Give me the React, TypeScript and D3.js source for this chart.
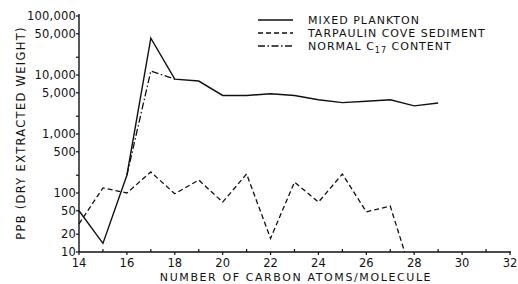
import React from "react";
import * as d3 from "d3";

const carbonAtoms = [14, 15, 16, 17, 18, 19, 20, 21, 22, 23, 24, 25, 26, 27, 28, 29];
const mixedPlankton = [50, 14, 200, 42000, 8500, 7900, 4500, 4500, 4800, 4500, 3800, 3400, 3600, 3800, 3000, 3350];

const normalC17X = [16, 17, 18];
const normalC17 = [200, 11700, 8500];

const tarpaulinX = [14, 15, 16, 17, 18, 19, 20, 21, 22, 23, 24, 25, 26, 27, 27.6];
const tarpaulin = [30, 122, 100, 227, 97, 166, 70, 210, 17, 153, 70, 210, 48, 60, 10];

const yTickValues = [100000, 50000, 10000, 5000, 1000, 500, 100, 50, 20, 10];
const yTickLabels = ["100,000", "50,000", "10,000", "5,000", "1,000", "500", "100", "50", "20", "10"];
const yMinorTicks = [20000, 2000, 200];
const xMajorTicks = [14, 16, 18, 20, 22, 24, 26, 28, 30, 32];
const xMinorTicks = [15, 17, 19, 21, 23, 25, 27, 29, 31];

const legendNames = ["MIXED PLANKTON", "TARPAULIN COVE SEDIMENT", "NORMAL C"];
const xTitle = "NUMBER OF CARBON ATOMS/MOLECULE";
const yTitle = "PPB (DRY EXTRACTED WEIGHT)";

export default function App() {
  const W = 518, H = 284;
  const x = d3.scaleLinear().domain([14, 32]).range([79, 510]);
  const y = d3.scaleLog().domain([10, 100000]).range([252, 16]);
  const font = "'DejaVu Sans', sans-serif";
  const ink = "#111";

  const line = (xs: number[], ys: number[]) =>
    d3.line<number>().x((_, i) => x(xs[i])).y((d) => y(d))(ys) || "";

  const dashes = ["none", "5,3", "7,2.5,1.5,2.5"];
  const legendY = [20, 33, 46];

  return (
    <svg width={W} height={H} style={{ position: "absolute", left: 0, top: 0, background: "#fff" }}>
      {/* axes */}
      <line x1={79} x2={79} y1={14} y2={252} stroke={ink} strokeWidth={1.4} />
      <line x1={79} x2={511} y1={252} y2={252} stroke={ink} strokeWidth={1.4} />
      {yTickValues.map((v, i) => (
        <g key={"yt" + v}>
          <line x1={76} x2={79} y1={y(v)} y2={y(v)} stroke={ink} strokeWidth={1.2} />
          <text x={76} y={y(v)} dy="0.35em" textAnchor="end" fontFamily={font} fontSize={11.5} fill={ink} letterSpacing={0.2}>
            {yTickLabels[i]}
          </text>
        </g>
      ))}
      {yMinorTicks.map((v) => (
        <line key={"ym" + v} x1={76} x2={79} y1={y(v)} y2={y(v)} stroke={ink} strokeWidth={1.2} />
      ))}
      {xMajorTicks.map((v) => (
        <g key={"xt" + v}>
          <line x1={x(v)} x2={x(v)} y1={252} y2={255} stroke={ink} strokeWidth={1.2} />
          <text x={x(v)} y={263} dy="0.35em" textAnchor="middle" fontFamily={font} fontSize={11.5} fill={ink}>
            {v}
          </text>
        </g>
      ))}
      {xMinorTicks.map((v) => (
        <line key={"xm" + v} x1={x(v)} x2={x(v)} y1={249} y2={252} stroke={ink} strokeWidth={1.2} />
      ))}
      <text x={296} y={277.5} dy="0.35em" textAnchor="middle" fontFamily={font} fontSize={11} fill={ink} letterSpacing={1.6}>
        {xTitle}
      </text>
      <text transform="translate(21,133) rotate(-90)" textAnchor="middle" dy="0.35em" fontFamily={font} fontSize={11.5} fill={ink} letterSpacing={1.3}>
        {yTitle}
      </text>

      {/* series */}
      <path d={line(tarpaulinX, tarpaulin)} fill="none" stroke={ink} strokeWidth={1.3} strokeDasharray={dashes[1]} />
      <path d={line(normalC17X, normalC17)} fill="none" stroke={ink} strokeWidth={1.3} strokeDasharray={dashes[2]} />
      <path d={line(carbonAtoms, mixedPlankton)} fill="none" stroke={ink} strokeWidth={1.4} />

      {/* legend */}
      {legendNames.map((name, i) => (
        <g key={name}>
          <line x1={258} x2={293} y1={legendY[i]} y2={legendY[i]} stroke={ink} strokeWidth={1.3} strokeDasharray={dashes[i]} />
          <text x={308} y={legendY[i]} dy="0.35em" fontFamily={font} fontSize={11} fill={ink} letterSpacing={1}>
            {name}
            {i === 2 && (
              <>
                <tspan fontSize={8} dy="3">17</tspan>
                <tspan dy="-3"> CONTENT</tspan>
              </>
            )}
          </text>
        </g>
      ))}
    </svg>
  );
}
